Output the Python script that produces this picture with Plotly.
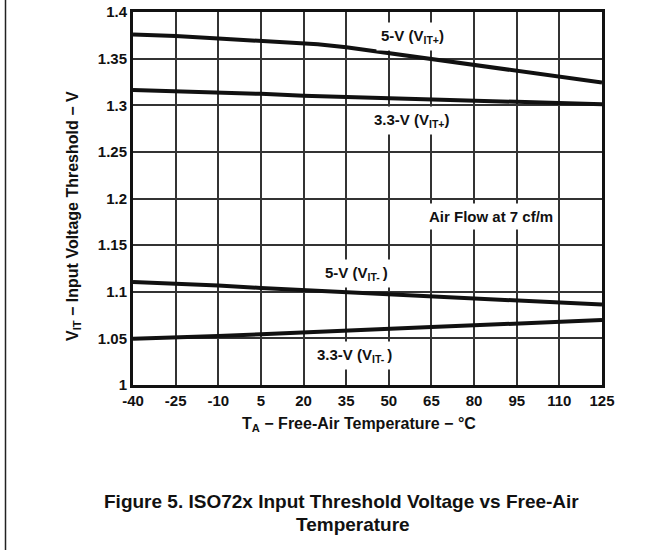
import plotly.graph_objects as go

temps = [-40, -25, -10, 5, 20, 25, 35, 50, 65, 80, 95, 110, 125]
temps_b = [-40, -25, -10, 5, 20, 35, 50, 65, 80, 95, 110, 125]

v5_itp = [1.376, 1.3743, 1.3715, 1.369, 1.367, 1.3655, 1.3622, 1.356, 1.349, 1.3426, 1.3364, 1.3303, 1.3243]
v33_itp = [1.3163, 1.3152, 1.3138, 1.3122, 1.3101, 1.3088, 1.3072, 1.3054, 1.3042, 1.3028, 1.3022, 1.3011]
v5_itn = [1.1105, 1.1089, 1.1068, 1.104, 1.1018, 1.1004, 1.098, 1.0955, 1.0931, 1.091, 1.0888, 1.0862]
v33_itn = [1.0496, 1.0506, 1.0525, 1.0544, 1.0566, 1.0587, 1.0605, 1.0623, 1.0640, 1.0657, 1.0675, 1.0697]

x_ticks = [-40, -25, -10, 5, 20, 35, 50, 65, 80, 95, 110, 125]
y_ticks = [1, 1.05, 1.1, 1.15, 1.2, 1.25, 1.3, 1.35, 1.4]
y_tick_text = ["1", "1.05", "1.1", "1.15", "1.2", "1.25", "1.3", "1.35", "1.4"]

FONT = "Liberation Sans, Arial, sans-serif"
INK = "#111111"

W, H = 669, 550
L, R, T, B = 133, 602, 12, 385
PW, PH = R - L, B - T


def px(xp):
    return (xp - L) / PW


def py(yp):
    return (B - yp) / PH


fig = go.Figure()
for xs, ys in [(temps, v5_itp), (temps_b, v33_itp), (temps_b, v5_itn), (temps_b, v33_itn)]:
    fig.add_trace(go.Scatter(x=xs, y=ys, mode="lines",
                             line=dict(color=INK, width=4),
                             showlegend=False, hoverinfo="skip"))

labels = [
    (58.5, 1.374, "5-V (V<sub>IT+</sub>)"),
    (58.0, 1.284, "3.3-V (V<sub>IT+</sub>)"),
    (85.8, 1.181, "Air Flow at 7 cf/m"),
    (38.8, 1.120, "5-V (V<sub>IT- </sub>)"),
    (38.0, 1.032, "3.3-V (V<sub>IT- </sub>)"),
]
for x, y, t in labels:
    fig.add_annotation(x=x, y=y, text=f"<b>{t}</b>", showarrow=False, bgcolor="white",
                       borderpad=4, font=dict(family=FONT, size=15, color=INK))

# axis titles
fig.add_annotation(xref="paper", yref="paper", x=px(358.5), y=py(424),
                   text="<b>T<sub>A</sub> − Free-Air Temperature − °C</b>",
                   showarrow=False, xanchor="center", yanchor="middle",
                   font=dict(family=FONT, size=16, color=INK))
fig.add_annotation(xref="paper", yref="paper", x=px(74), y=py(216),
                   text="<b>V<sub>IT</sub> − Input Voltage Threshold − V</b>",
                   textangle=-90, showarrow=False, xanchor="center", yanchor="middle",
                   font=dict(family=FONT, size=16, color=INK))

# caption
fig.add_annotation(xref="paper", yref="paper", x=px(341), y=py(501),
                   text="<b>Figure 5. ISO72x Input Threshold Voltage vs Free-Air</b>",
                   showarrow=False, xanchor="center", yanchor="middle",
                   font=dict(family=FONT, size=19, color=INK))
fig.add_annotation(xref="paper", yref="paper", x=px(353), y=py(524),
                   text="<b>Temperature</b>",
                   showarrow=False, xanchor="center", yanchor="middle",
                   font=dict(family=FONT, size=19, color=INK))

# left page border
fig.add_shape(type="line", xref="paper", yref="paper",
              x0=px(5.5), x1=px(5.5), y0=py(-20), y1=py(570),
              line=dict(color="#222222", width=1.5))

fig.update_layout(
    width=W, height=H,
    margin=dict(l=L, r=W - R, t=T, b=H - B, autoexpand=False),
    paper_bgcolor="white", plot_bgcolor="white",
    font=dict(family=FONT, size=15, color=INK),
    xaxis=dict(range=[-40, 125], tickvals=x_ticks, ticktext=[f"<b>{v}</b>" for v in x_ticks],
               showgrid=True, gridcolor="#333333", gridwidth=1.5,
               showline=True, linecolor=INK, linewidth=3, mirror=True,
               ticks="", ticklabelstandoff=0, zeroline=False, automargin=False),
    yaxis=dict(range=[1, 1.4], tickvals=y_ticks, ticktext=[f"<b>{v}</b>" for v in y_tick_text],
               showgrid=True, gridcolor="#333333", gridwidth=1.5,
               showline=True, linecolor=INK, linewidth=3, mirror=True,
               ticks="", ticklabelstandoff=0, zeroline=False, automargin=False,
               ticklabeloverflow="allow"),
)

fig.write_html("out.html", config={"displayModeBar": False},
               post_script="document.body.style.margin='0';document.body.style.overflow='hidden';")
